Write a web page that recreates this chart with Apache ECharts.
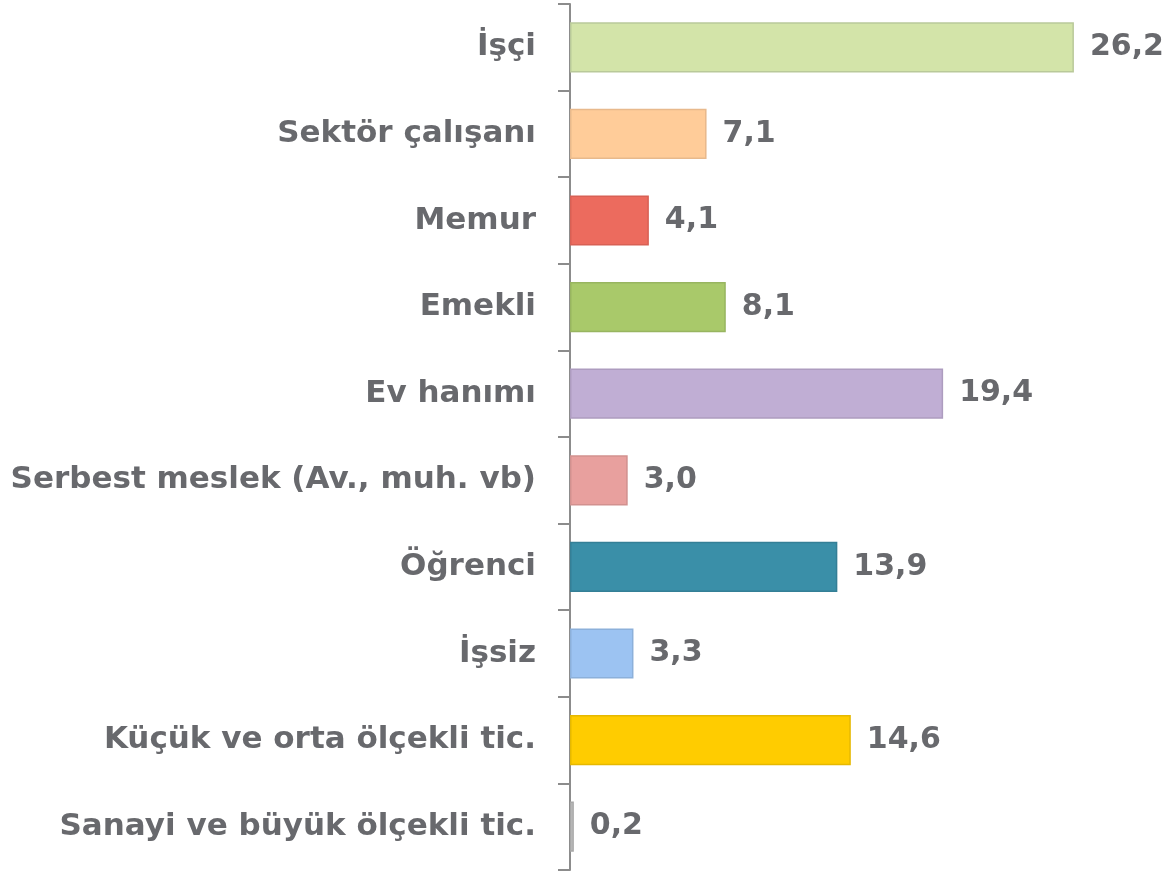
<!DOCTYPE html>
<html>
<head>
<meta charset="utf-8">
<script src="https://cdn.jsdelivr.net/npm/echarts@6/dist/echarts.min.js"></script>
<style>
  html, body { margin: 0; padding: 0; background: #fff; }
  #chart { width: 1173px; height: 872px; }
</style>
</head>
<body>
<div id="chart"></div>
<script>
// kategoriler (yukarıdan aşağıya)
var categories = [
  "İşçi", "Sektör çalışanı", "Memur", "Emekli", "Ev hanımı",
  "Serbest meslek (Av., muh. vb)", "Öğrenci", "İşsiz",
  "Küçük ve orta ölçekli tic.", "Sanayi ve büyük ölçekli tic."
];
// yüzde değerleri
var values = [26.2, 7.1, 4.1, 8.1, 19.4, 3.0, 13.9, 3.3, 14.6, 0.2];
// çubuk renkleri
var barColors = ["#d3e4a9", "#ffcc99", "#ec6b5e", "#a9c96a", "#c0aed4",
                 "#e8a09e", "#3a8fa8", "#9cc3f2", "#ffcc00", "#c4c4c4"];
var borderColors = ["#b9c99a", "#e8b98c", "#d86054", "#98b560", "#ad9cbf",
                    "#d2918f", "#347f96", "#8cb0da", "#e6b800", "#a8a8a8"];

var chart = echarts.init(document.getElementById("chart"));

var option = {
  animation: false,
  grid: { left: 570, right: 26, top: 4, bottom: 2, containLabel: false },
  xAxis: {
    type: "value",
    min: 0,
    max: 30,
    show: false
  },
  yAxis: {
    type: "category",
    inverse: true,
    data: categories,
    axisLine: { show: true, lineStyle: { color: "#8c8c8c", width: 2 } },
    axisTick: { show: true, length: 12, lineStyle: { color: "#8c8c8c", width: 2 } },
    axisLabel: {
      margin: 34,
      color: "#68696d",
      fontFamily: "DejaVu Sans",
      fontWeight: "bold",
      fontSize: 31
    }
  },
  series: [{
    type: "bar",
    barWidth: "58%",
    data: values.map(function (v, i) {
      return {
        value: v,
        itemStyle: { color: barColors[i], borderColor: borderColors[i], borderWidth: 1.5 }
      };
    }),
    label: {
      show: true,
      position: "right",
      distance: 16,
      color: "#68696d",
      fontFamily: "DejaVu Sans",
      fontWeight: "bold",
      fontSize: 30,
      formatter: function (p) { return p.value.toFixed(1).replace(".", ","); }
    }
  }]
};

chart.setOption(option);
</script>
</body>
</html>
